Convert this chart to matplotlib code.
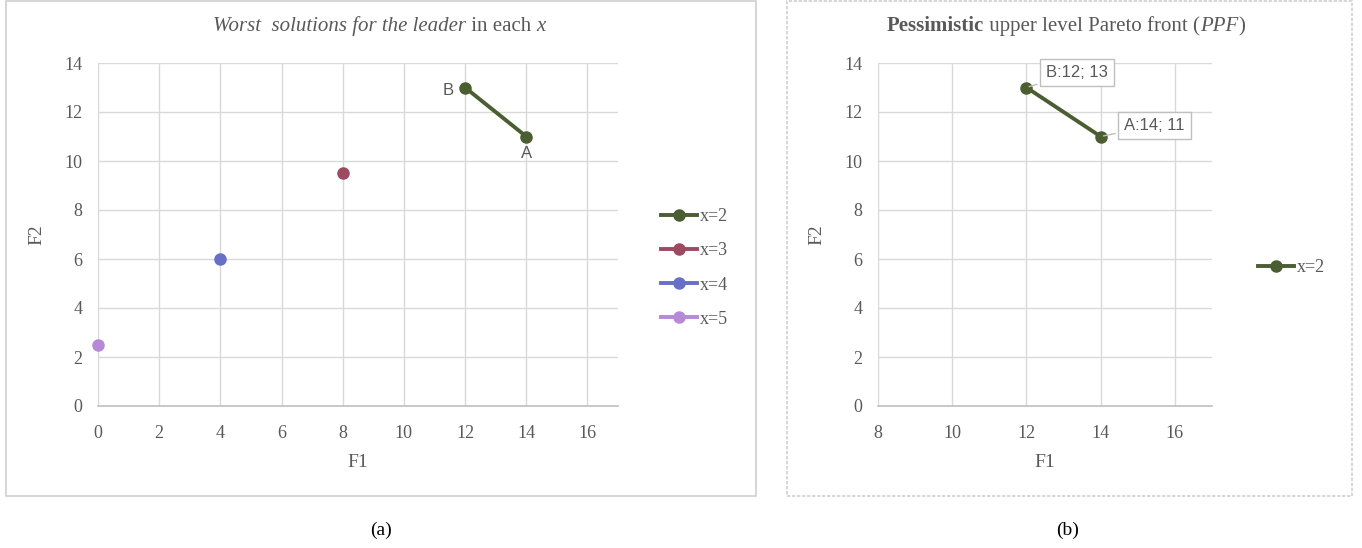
import matplotlib
matplotlib.use("Agg")
import matplotlib.pyplot as plt
from matplotlib.patches import Rectangle

# ---- data ----
series_labels = ["x=2", "x=3", "x=4", "x=5"]
series_colors = ["#4a5e32", "#9b4a62", "#6670c8", "#b68ad6"]
f1_x2 = [12, 14]
f2_x2 = [13, 11]
f1_x3 = [8]
f2_x3 = [9.5]
f1_x4 = [4]
f2_x4 = [6]
f1_x5 = [0]
f2_x5 = [2.5]
point_names = ["B", "A"]
xticks_a = [0, 2, 4, 6, 8, 10, 12, 14, 16]
xticks_b = [8, 10, 12, 14, 16]
yticks = [0, 2, 4, 6, 8, 10, 12, 14]

W, H = 1362, 548
fig = plt.figure(figsize=(W / 100, H / 100), dpi=100)
TXT = "#595959"
GRID = "#d9d9d9"
SERIF = "Liberation Serif"
SANS = "Liberation Sans"


def fx(px):
    return px / W


def fy(py):
    return 1 - py / H


# panel frames
fig.patches.append(Rectangle((fx(6), fy(496)), fx(756 - 6), (496 - 1) / H,
                             transform=fig.transFigure, fill=False,
                             edgecolor="#d0d0d0", linewidth=1.2))
fig.patches.append(Rectangle((fx(787), fy(496)), fx(1352 - 787), (496 - 1) / H,
                             transform=fig.transFigure, fill=False,
                             edgecolor="#d0d0d0", linewidth=1.2, linestyle=(0, (2, 1))))

axA = fig.add_axes([fx(98), fy(406), fx(618 - 98), (406 - 63) / H])
axB = fig.add_axes([fx(878), fy(406), fx(1212 - 878), (406 - 63) / H])


def style(ax, xticks, xlim):
    ax.set_xlim(*xlim)
    ax.set_ylim(0, 14)
    ax.set_xticks(xticks)
    ax.set_yticks(yticks)
    ax.grid(True, color=GRID, linewidth=1)
    ax.set_axisbelow(True)
    for s in ["top", "right", "left"]:
        ax.spines[s].set_visible(False)
    ax.spines["bottom"].set_color("#bfbfbf")
    ax.spines["bottom"].set_linewidth(1.2)
    ax.tick_params(axis="x", length=0, labelsize=13, colors=TXT, pad=14)
    ax.tick_params(axis="y", length=0, labelsize=13, colors=TXT, pad=11)
    for lab in ax.get_xticklabels() + ax.get_yticklabels():
        lab.set_fontfamily(SERIF)
    ax.set_xlabel("F1", fontsize=14, color=TXT, fontfamily=SERIF, labelpad=8)
    ax.set_ylabel("F2", fontsize=14, color=TXT, fontfamily=SERIF, labelpad=14)


# ---- panel (a) ----
style(axA, xticks_a, (0, 17))
data = [(f1_x2, f2_x2), (f1_x3, f2_x3), (f1_x4, f2_x4), (f1_x5, f2_x5)]
handles = []
for (xs, ys), lab, col in zip(data, series_labels, series_colors):
    h, = axA.plot(xs, ys, color=col, linewidth=2.8, marker="o", markersize=8,
                  label=lab, clip_on=False, zorder=3)
    handles.append(h)
axA.annotate(point_names[0], (f1_x2[0], f2_x2[0]), xytext=(-12, -2), textcoords="offset points",
             ha="center", va="center", fontsize=12, color=TXT, fontfamily=SANS)
axA.annotate(point_names[1], (f1_x2[1], f2_x2[1]), xytext=(0, -12), textcoords="offset points",
             ha="center", va="center", fontsize=12, color=TXT, fontfamily=SANS)
legA = axA.legend(handles=handles, loc="center left",
                  bbox_to_anchor=(fx(645), fy(268)), bbox_transform=fig.transFigure,
                  frameon=False, handlelength=2.0, handletextpad=0.15, labelspacing=0.95,
                  prop={"family": SERIF, "size": 13})
for t in legA.get_texts():
    t.set_color(TXT)

# ---- panel (b) ----
style(axB, xticks_b, (8, 17))
hB, = axB.plot(f1_x2, f2_x2, color=series_colors[0], linewidth=2.8, marker="o",
               markersize=8, label=series_labels[0], zorder=3)
bbox_kw = dict(boxstyle="square,pad=0.35", fc="white", ec="#bfbfbf", lw=1)
arrow_kw = dict(arrowstyle="-", color="#bfbfbf", lw=1)
axB.annotate(f"{point_names[0]}:{f1_x2[0]}; {f2_x2[0]}", (f1_x2[0], f2_x2[0]),
             xytext=(14, 11), textcoords="offset points", ha="left", va="center",
             fontsize=12, color=TXT, fontfamily=SANS, bbox=bbox_kw, arrowprops=arrow_kw)
axB.annotate(f"{point_names[1]}:{f1_x2[1]}; {f2_x2[1]}", (f1_x2[1], f2_x2[1]),
             xytext=(17, 8), textcoords="offset points", ha="left", va="center",
             fontsize=12, color=TXT, fontfamily=SANS, bbox=bbox_kw, arrowprops=arrow_kw)
legB = axB.legend(handles=[hB], loc="center left",
                  bbox_to_anchor=(fx(1242), fy(268)), bbox_transform=fig.transFigure,
                  frameon=False, handlelength=2.0, handletextpad=0.15,
                  prop={"family": SERIF, "size": 13})
for t in legB.get_texts():
    t.set_color(TXT)


# ---- titles built from styled pieces ----
def rainbow(pieces, x0, y0, size):
    fig.canvas.draw()
    r = fig.canvas.get_renderer()
    x = x0
    for s, kw in pieces:
        t = fig.text(fx(x), fy(y0), s, ha="left", va="baseline",
                     fontsize=size, color=TXT, fontfamily=SERIF, **kw)
        ext = t.get_window_extent(renderer=r)
        x += ext.width


rainbow([("Worst  solutions for the leader", {"style": "italic"}),
         (" in each ", {}),
         ("x", {"style": "italic"})], 213, 31, 15)
rainbow([("Pessimistic", {"weight": "bold"}),
         (" upper level Pareto front (", {}),
         ("PPF", {"style": "italic"}),
         (")", {})], 887, 31, 15)

fig.text(fx(381), fy(530), "(a)", ha="center", va="center", fontsize=14,
         color="black", fontfamily=SERIF)
fig.text(fx(1068), fy(530), "(b)", ha="center", va="center", fontsize=14,
         color="black", fontfamily=SERIF)

fig.savefig("out.png", dpi=100)
